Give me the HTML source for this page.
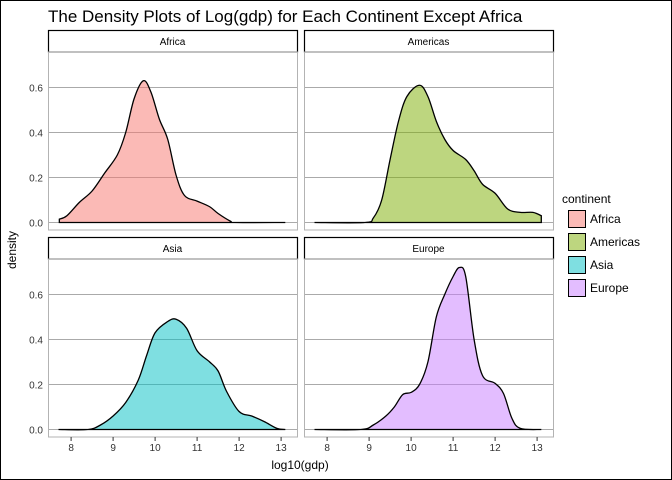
<!DOCTYPE html>
<html><head><meta charset="utf-8"><style>
body{margin:0;background:#fff}
svg{display:block;font-family:"Liberation Sans",sans-serif}
</style></head><body>
<svg id="chart" width="672" height="480">
<rect x="0.5" y="0.5" width="671" height="479" fill="#fff" stroke="#000"/>
<text x="48" y="22" font-size="17">The Density Plots of Log(gdp) for Each Continent Except Africa</text>
<text x="300" y="469" font-size="12" text-anchor="middle">log10(gdp)</text>
<text transform="translate(16,250) rotate(-90)" font-size="12" text-anchor="middle">density</text>
<g id="panels"></g>
<text x="562" y="203" font-size="12">continent</text>
<g id="legend"></g>
</svg>
<script>
const continents=["Africa","Americas","Asia","Europe"];
const colors=["#F8766D","#7CAE00","#00BFC4","#C77CFF"];
const xTicks=[8,9,10,11,12,13];
const yTicks=[0,0.2,0.4,0.6];
const yTickLabels=["0.0","0.2","0.4","0.6"];
const africaX=[7.72,7.9,8.2,8.5,8.8,9.1,9.3,9.5,9.72,9.9,10.1,10.3,10.5,10.7,11.0,11.3,11.5,11.8,11.9,13.1];
const africaY=[0.015,0.03,0.09,0.14,0.22,0.3,0.4,0.55,0.63,0.58,0.46,0.37,0.21,0.12,0.095,0.07,0.04,0.005,0,0];
const americasX=[7.7,8.9,9.1,9.3,9.5,9.7,9.9,10.2,10.4,10.6,10.8,11.0,11.3,11.5,11.7,12.0,12.3,12.6,12.9,13.1];
const americasY=[0,0,0.02,0.1,0.28,0.45,0.56,0.61,0.56,0.45,0.37,0.32,0.28,0.23,0.17,0.13,0.06,0.045,0.045,0.03];
const asiaX=[7.7,8.4,8.7,9.0,9.3,9.6,9.8,10.0,10.3,10.5,10.75,11.0,11.3,11.5,11.7,12.0,12.3,12.6,12.9,13.1];
const asiaY=[0,0,0.02,0.06,0.12,0.22,0.33,0.43,0.48,0.49,0.45,0.35,0.3,0.26,0.17,0.08,0.06,0.035,0.005,0];
const europeX=[7.7,8.8,9.1,9.4,9.6,9.8,10.0,10.2,10.4,10.6,10.8,11.0,11.15,11.3,11.5,11.7,12.0,12.2,12.4,12.6,13.1];
const europeY=[0,0,0.02,0.06,0.1,0.155,0.165,0.2,0.3,0.5,0.6,0.68,0.72,0.68,0.4,0.24,0.205,0.16,0.05,0.005,0];
const seriesX=[africaX,americasX,asiaX,europeX];
const seriesY=[africaY,americasY,asiaY,europeY];

const NS="http://www.w3.org/2000/svg";
function mk(tag,attrs,parent){const e=document.createElementNS(NS,tag);for(const k in attrs)e.setAttribute(k,attrs[k]);parent.appendChild(e);return e;}
const panels=document.getElementById("panels");
const layout=[{x0:48,x1:297,sy:30,py0:52,py1:230},{x0:304,x1:553,sy:30,py0:52,py1:230},{x0:48,x1:297,sy:237,py0:259,py1:437},{x0:304,x1:553,sy:237,py0:259,py1:437}];
function smoothPath(pts){let d="M"+pts[0][0]+","+pts[0][1];for(let i=0;i<pts.length-1;i++){const p0=pts[Math.max(0,i-1)],p1=pts[i],p2=pts[i+1],p3=pts[Math.min(pts.length-1,i+2)];const c1=[p1[0]+(p2[0]-p0[0])/6,p1[1]+(p2[1]-p0[1])/6],c2=[p2[0]-(p3[0]-p1[0])/6,p2[1]-(p3[1]-p1[1])/6];d+=" C"+c1[0]+","+c1[1]+" "+c2[0]+","+c2[1]+" "+p2[0]+","+p2[1];}return d;}
continents.forEach((c,i)=>{
  const L=layout[i];
  const xs=L.x0+23.1, xu=42;
  const xScale=v=>xs+(v-8)*xu;
  const y0=L.py1-7.5;
  const yScale=v=>y0-v*225;
  const g=mk("g",{},panels);
  
  
  const strip=mk("rect",{x:L.x0+0.5,y:L.sy+0.5,width:L.x1-L.x0,height:L.py0-L.sy-0.5,fill:"#fff",stroke:"#000","stroke-width":1.2},g);
  
  
  const st=mk("text",{x:(L.x0+L.x1)/2,y:L.sy+15,"font-size":10,"text-anchor":"middle"},g);st.textContent=c;
  
  
  yTicks.forEach((t,j)=>{
    const gl=mk("line",{x1:L.x0,x2:L.x1,y1:yScale(t),y2:yScale(t),stroke:"#aaa","stroke-width":1},g);
    
    
    if(L.x0<100){
      const tl=mk("text",{x:L.x0-5,y:yScale(t)+4,"font-size":10,"text-anchor":"end",fill:"#333"},g);tl.textContent=yTickLabels[j];
      
      
    }
  });
  const pts=seriesX[i].map((v,k)=>[xScale(v),yScale(seriesY[i][k])]);
  const d=smoothPath(pts)+" L"+pts[pts.length-1][0]+","+y0+" L"+pts[0][0]+","+y0+" Z";
  const area=mk("path",{d:d,fill:colors[i],"fill-opacity":0.5,stroke:"#000","stroke-width":1.3},g);
  
  
  const border=mk("rect",{x:L.x0+0.5,y:L.py0,width:L.x1-L.x0,height:L.py1-L.py0,fill:"none",stroke:"#b3b3b3"},g);
  
  
  if(L.sy>100){
    xTicks.forEach(t=>{
      const tk=mk("line",{x1:xScale(t),x2:xScale(t),y1:L.py1,y2:L.py1+4,stroke:"#333"},g);
      
      
      const tl=mk("text",{x:xScale(t),y:L.py1+14,"font-size":10,"text-anchor":"middle",fill:"#333"},g);tl.textContent=t;
      
      
    });
  }
});
const leg=document.getElementById("legend");
continents.forEach((c,i)=>{
  const y=210+i*23;
  const r=mk("rect",{x:568.5,y:y+0.5,width:17,height:17,fill:colors[i],"fill-opacity":0.5,stroke:"#000"},leg);
  
  
  const t=mk("text",{x:590,y:y+13,"font-size":12},leg);t.textContent=c;
  
  
});
</script>
</body></html>
